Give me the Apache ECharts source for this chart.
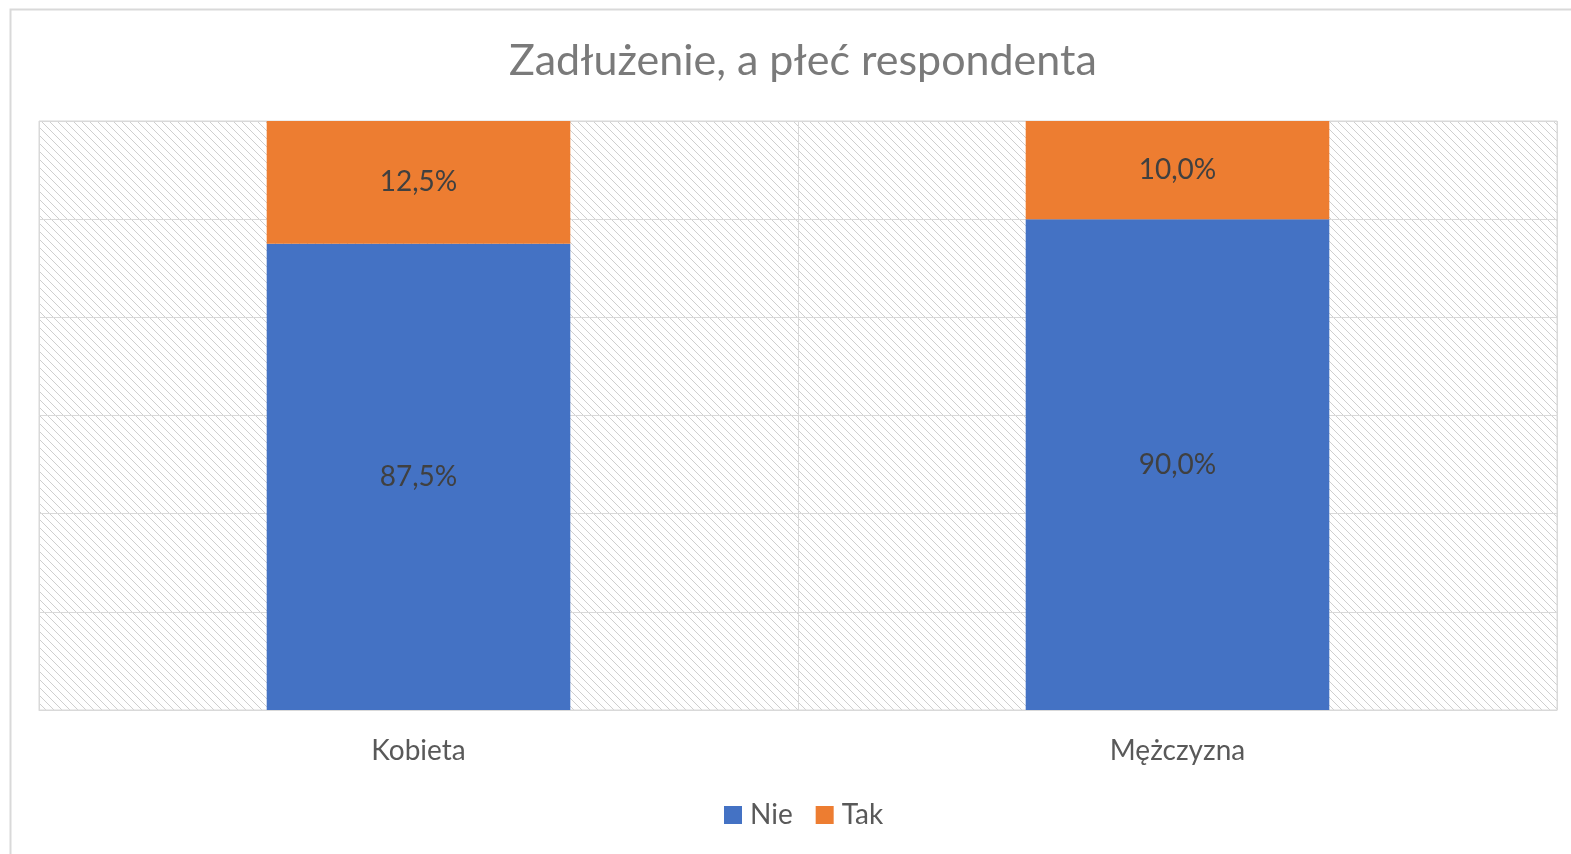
<!DOCTYPE html>
<html>
<head>
<meta charset="utf-8">
<script src="https://cdn.jsdelivr.net/npm/echarts@6/dist/echarts.min.js"></script>
<style>
  html, body { margin: 0; padding: 0; background: #fff; }
  #main { width: 1571px; height: 854px; }
</style>
</head>
<body>
<div id="main"></div>
<script>
// dane
var categories = ['Kobieta', 'Mężczyzna'];
var nieValues = [87.5, 90.0];
var takValues = [12.5, 10.0];
var seriesNames = ['Nie', 'Tak'];

// kreskowane tło obszaru wykresu
function hatch() {
  var c = document.createElement('canvas');
  c.width = 8; c.height = 8;
  var ctx = c.getContext('2d');
  ctx.fillStyle = '#ffffff';
  ctx.fillRect(0, 0, 8, 8);
  ctx.fillStyle = '#cfcfcf';
  for (var i = 0; i < 8; i++) {
    ctx.fillRect(i, i, 1, 1);
  }
  return c;
}

function fmt(p) {
  return p.value.toFixed(1).replace('.', ',') + '%';
}

var font = 'Lato, "Open Sans", sans-serif';
var myChart = echarts.init(document.getElementById('main'));
var option = {
  backgroundColor: '#fff',
  animation: false,
  textStyle: { fontFamily: font },
  title: {
    text: 'Zadłużenie, a płeć respondenta',
    left: 504,
    top: 35,
    textStyle: { fontSize: 43, fontWeight: 'normal', color: '#7a7a7a', fontFamily: font }
  },
  graphic: [{
    type: 'rect',
    shape: { x: 10.5, y: 9.5, width: 1570, height: 860 },
    style: { fill: 'none', stroke: '#d9d9d9', lineWidth: 2 },
    silent: true
  }],
  legend: {
    data: seriesNames,
    bottom: 20,
    left: 719,
    icon: 'rect',
    itemWidth: 18,
    itemHeight: 18,
    itemGap: 23,
    textStyle: { fontSize: 28, color: '#595959', fontFamily: font, padding: [0, 0, 0, 3] }
  },
  grid: {
    left: 39,
    right: 14,
    top: 121,
    bottom: 144,
    show: true,
    borderColor: '#d9d9d9',
    borderWidth: 1,
    backgroundColor: { image: hatch(), repeat: 'repeat' }
  },
  xAxis: {
    type: 'category',
    data: categories,
    axisLine: { lineStyle: { color: '#d9d9d9' } },
    axisTick: { show: false },
    splitLine: { show: true, lineStyle: { color: '#d9d9d9', width: 1 } },
    axisLabel: { fontSize: 28, color: '#595959', margin: 27, fontFamily: font }
  },
  yAxis: {
    type: 'value',
    min: 40,
    max: 100,
    interval: 10,
    axisLabel: { show: false },
    axisLine: { show: false },
    axisTick: { show: false },
    splitLine: { lineStyle: { color: '#d9d9d9', width: 1 } }
  },
  series: [{
    name: seriesNames[0],
    type: 'bar',
    stack: 'a',
    data: nieValues,
    barWidth: '40%',
    itemStyle: { color: '#4472c4' },
    label: { show: true, position: 'inside', formatter: fmt, fontSize: 28, color: '#404040', fontFamily: font }
  }, {
    name: seriesNames[1],
    type: 'bar',
    stack: 'a',
    data: takValues,
    barWidth: '40%',
    itemStyle: { color: '#ed7d31' },
    label: { show: true, position: 'inside', formatter: fmt, fontSize: 28, color: '#404040', fontFamily: font }
  }]
};
myChart.setOption(option);
</script>
</body>
</html>
